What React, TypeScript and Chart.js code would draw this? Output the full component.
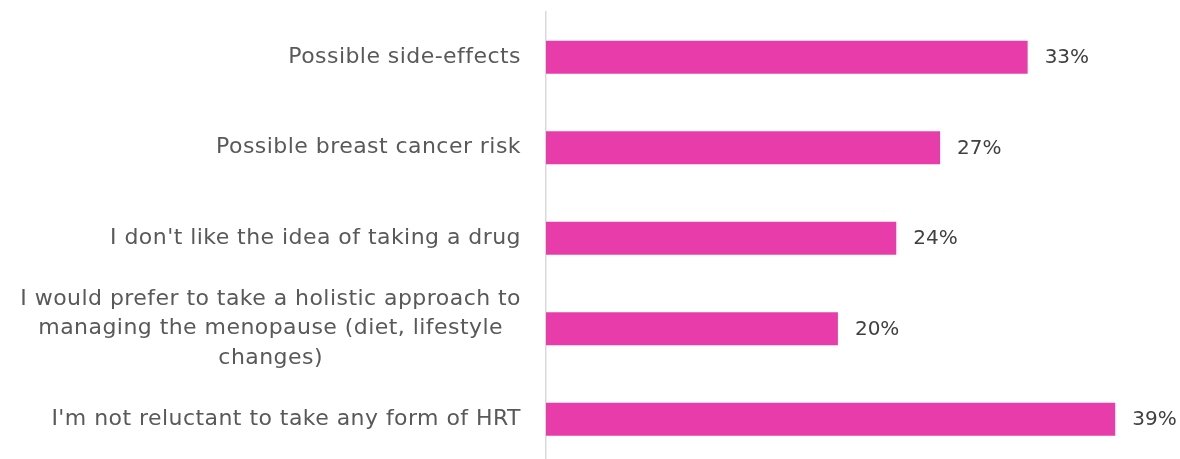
import React, { useEffect, useRef } from "react";
import { Chart, registerables } from "chart.js";

Chart.register(...registerables);

const categories: string[][] = [
  ["Possible side-effects"],
  ["Possible breast cancer risk"],
  ["I don't like the idea of taking a drug"],
  [
    "I would prefer to take a holistic approach to",
    "managing the menopause (diet, lifestyle",
    "changes)",
  ],
  ["I'm not reluctant to take any form of HRT"],
];
const values: number[] = [33, 27, 24, 20, 39];
const valueLabels: string[] = ["33%", "27%", "24%", "20%", "39%"];

const FONT = "DejaVu Sans";

const labelPlugin = {
  id: "customLabels",
  afterDatasetsDraw(chart: any) {
    const ctx = chart.ctx as any;
    const yScale = chart.scales.y;
    const meta = chart.getDatasetMeta(0);
    ctx.save();
    // category labels
    ctx.font = `22px "${FONT}"`;
    ctx.letterSpacing = "0.45px";
    ctx.fillStyle = "#595959";
    ctx.textBaseline = "middle";
    ctx.textAlign = "center";
    const rightEdge = 521;
    const lineH = 29.5;
    categories.forEach((lines, i) => {
      const cy = yScale.getPixelForValue(i);
      const maxW = Math.max(...lines.map((l) => ctx.measureText(l).width));
      const cx = rightEdge - maxW / 2;
      const startY = cy - ((lines.length - 1) * lineH) / 2;
      lines.forEach((l, j) => ctx.fillText(l, cx, startY + j * lineH));
    });
    // value labels
    ctx.letterSpacing = "0px";
    ctx.font = `20px "${FONT}"`;
    ctx.fillStyle = "#404040";
    ctx.textAlign = "left";
    meta.data.forEach((bar: any, i: number) => {
      ctx.fillText(valueLabels[i], bar.x + 17, bar.y + 1);
    });
    ctx.restore();
  },
};

export default function App() {
  const ref = useRef<HTMLCanvasElement | null>(null);
  useEffect(() => {
    document.body.style.margin = "0";
    const chart = new Chart(ref.current!, {
      type: "bar",
      data: {
        labels: categories.map((c) => c.join(" ")),
        datasets: [
          {
            data: values,
            backgroundColor: "#E83CAA",
            borderWidth: 0,
            barPercentage: 0.365,
            categoryPercentage: 1,
          },
        ],
      },
      options: {
        indexAxis: "y",
        animation: false,
        responsive: false,
        maintainAspectRatio: false,
        layout: { padding: { top: 12, bottom: 1.5, right: 21, left: 0 } },
        plugins: {
          legend: { display: false },
          tooltip: { enabled: false },
        },
        scales: {
          x: {
            display: false,
            min: 0,
            max: 42,
          },
          y: {
            display: true,
            grid: { display: false },
            border: { display: true, color: "#D9D9D9", width: 1.5 },
            ticks: { display: false },
            afterFit: (s: any) => {
              s.width = 546;
            },
          },
        },
      },
      plugins: [labelPlugin],
    });
    return () => chart.destroy();
  }, []);
  return (
    <div style={{ position: "absolute", left: 0, top: 0, width: 1180, height: 459, overflow: "hidden" }}>
      <canvas ref={ref} width={1180} height={466} style={{ display: "block" }} />
    </div>
  );
}
